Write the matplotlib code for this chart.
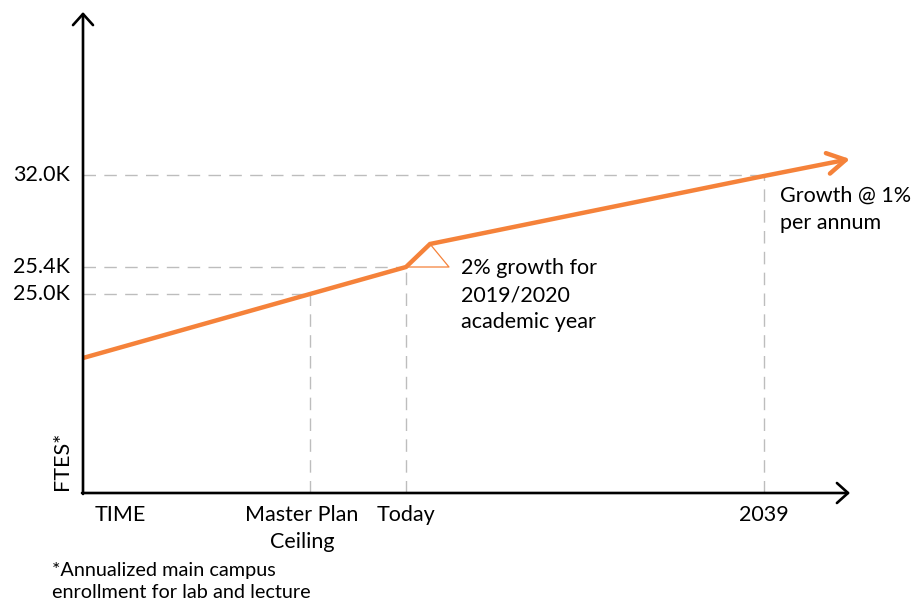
import matplotlib.pyplot as plt

plt.rcParams['font.family'] = ['Lato', 'DejaVu Sans']

# schematic positions (origin = axes corner)
time_labels = ['TIME', 'Master Plan\nCeiling', 'Today', '2039']
time_pos = [37, 227, 323, 681]

fte_labels = ['32.0K', '25.4K', '25.0K']
fte_level = [318, 226, 199]

# enrollment line (time, level)
line_t = [0, 227, 323, 347, 681, 767]
line_v = [135, 199, 226, 249, 317, 334]

# 2% growth triangle
tri_t = [323, 347, 366, 323]
tri_v = [226, 249, 226, 226]

orange = '#F5823A'
grey = '#BDBDBD'

fig = plt.figure(figsize=(9.16, 6.04), dpi=100)
ax = fig.add_axes([0, 0, 1, 1])
ax.set_xlim(-83, 833)
ax.set_ylim(-111, 493)
ax.axis('off')

# dashed guides
dash = (0, (9, 6))
for t, v in [(227, 199), (323, 226), (681, 318)]:
    ax.plot([0, t], [v, v], color=grey, lw=1, ls=dash)
    ax.plot([t, t], [0, v], color=grey, lw=1, ls=dash)

# axes with arrows
ax.annotate('', xy=(0, 481), xytext=(0, -1),
            arrowprops=dict(arrowstyle='->,head_length=0.8,head_width=0.72',
                            lw=1.9, color='black', shrinkA=0, shrinkB=0))
ax.annotate('', xy=(767, 0), xytext=(-1, 0),
            arrowprops=dict(arrowstyle='->,head_length=0.8,head_width=0.72',
                            lw=1.9, color='black', shrinkA=0, shrinkB=0))

# enrollment line
ax.plot(line_t[:-1], line_v[:-1], color=orange, lw=3.2,
        solid_joinstyle='miter', solid_capstyle='butt')
ax.annotate('', xy=(line_t[-1], line_v[-1]), xytext=(line_t[-2], line_v[-2]),
            arrowprops=dict(arrowstyle='->,head_length=1.3,head_width=0.75',
                            lw=3.2, color=orange, shrinkA=0, shrinkB=0))
ax.plot(tri_t, tri_v, color=orange, lw=0.9)

fs = 15.5
for lab, v in zip(fte_labels, fte_level):
    ax.text(-13, v, lab, ha='right', va='center', fontsize=fs)

for lab, t in zip(time_labels, time_pos):
    if '\n' in lab:
        ax.text(t - 8, -35.5, lab, ha='center', va='center', fontsize=fs,
                multialignment='center', linespacing=1.45)
    else:
        ax.text(t, -22, lab, ha='center', va='center', fontsize=fs)

ax.text(-21, 3, 'FTES*', rotation=90, ha='center', va='bottom', fontsize=fs)

ax.text(378, 198, '2% growth for\n2019/2020\nacademic year', ha='left',
        va='center', fontsize=fs, linespacing=1.45)
ax.text(697, 284, 'Growth @ 1%\nper annum', ha='left', va='center',
        fontsize=fs, linespacing=1.45)
ax.text(-31, -88.5, '*Annualized main campus\nenrollment for lab and lecture',
        ha='left', va='center', fontsize=14.3, linespacing=1.4)

fig.savefig('out.png', dpi=100)
